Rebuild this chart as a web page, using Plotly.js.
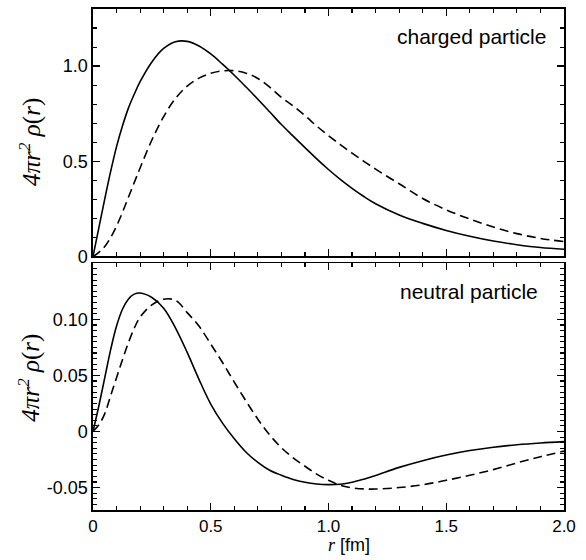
<!DOCTYPE html>
<html>
<head>
<meta charset="utf-8">
<script src="https://cdn.plot.ly/plotly-3.0.1.min.js"></script>
<style>html,body{margin:0;padding:0;background:#fff;}#chart{width:586px;height:560px;}</style>
</head>
<body>
<div id="chart"></div>
<script>
// radius grid [fm]
const rValues = [0,0.025,0.05,0.075,0.1,0.125,0.15,0.175,0.2,0.25,0.3,0.35,0.4,0.45,0.5,0.55,0.6,0.65,0.7,0.75,0.8,0.85,0.9,0.95,1.0,1.05,1.1,1.15,1.2,1.3,1.4,1.5,1.6,1.7,1.8,1.9,2.0];
// charged particle
const chargedSolid = [0,0.152,0.303,0.447,0.577,0.685,0.778,0.852,0.918,1.022,1.093,1.128,1.13,1.106,1.064,1.01,0.952,0.89,0.826,0.76,0.693,0.632,0.572,0.513,0.457,0.405,0.358,0.315,0.277,0.218,0.174,0.137,0.106,0.081,0.062,0.047,0.038];
const chargedDashed = [0,0.022,0.052,0.10,0.16,0.232,0.31,0.388,0.465,0.612,0.735,0.83,0.895,0.937,0.962,0.975,0.976,0.963,0.935,0.89,0.836,0.79,0.74,0.685,0.635,0.588,0.543,0.50,0.459,0.382,0.305,0.245,0.197,0.155,0.12,0.095,0.078];
// neutral particle
const neutralSolid = [0,0.023,0.048,0.073,0.094,0.109,0.118,0.1225,0.1235,0.1195,0.110,0.0925,0.0705,0.0465,0.0245,0.0075,-0.0065,-0.0185,-0.0275,-0.0345,-0.039,-0.0428,-0.0453,-0.0468,-0.0474,-0.047,-0.0453,-0.0425,-0.0392,-0.032,-0.026,-0.021,-0.017,-0.014,-0.0118,-0.0102,-0.009];
const neutralDashed = [0,0.006,0.016,0.032,0.048,0.064,0.079,0.092,0.102,0.113,0.118,0.117,0.106,0.094,0.078,0.0615,0.044,0.027,0.011,-0.003,-0.0145,-0.0235,-0.031,-0.038,-0.0435,-0.048,-0.0502,-0.0512,-0.0513,-0.0500,-0.0475,-0.0435,-0.039,-0.034,-0.028,-0.0225,-0.0175];
// ticks
const xTickVals = [0,0.5,1.0,1.5,2.0];
const xTickText = ["0","0.5","1.0","1.5","2.0"];
const topTickVals = [0,0.5,1.0];
const topTickText = ["0","0.5","1.0"];
const botTickVals = [-0.05,0,0.05,0.10];
const botTickText = ["-0.05","0","0.05","0.10"];
const panelLabels = ["charged particle","neutral particle"];

const lineW = 1.6;
const traces = [
  {x: rValues, y: chargedSolid, xaxis:'x2', yaxis:'y2', mode:'lines', line:{color:'#000', width:lineW, shape:'spline', smoothing:1}},
  {x: rValues, y: chargedDashed, xaxis:'x2', yaxis:'y2', mode:'lines', line:{color:'#000', width:lineW, dash:'9px,5px', shape:'spline', smoothing:1}},
  {x: rValues, y: neutralSolid, xaxis:'x', yaxis:'y', mode:'lines', line:{color:'#000', width:lineW, shape:'spline', smoothing:1}},
  {x: rValues, y: neutralDashed, xaxis:'x', yaxis:'y', mode:'lines', line:{color:'#000', width:lineW, dash:'9px,5px', shape:'spline', smoothing:1}}
];

const sans = 'Liberation Sans, Arial, sans-serif';
const serif = 'Liberation Serif, Times New Roman, serif';
const axisCommon = {
  showline:true, linecolor:'#000', linewidth:1.6, mirror:'allticks',
  ticks:'inside', ticklen:7, tickwidth:1.3, tickcolor:'#000',
  showgrid:false, zeroline:false, fixedrange:true
};
const minorTicks = (d) => ({dtick:d, ticks:'inside', ticklen:4, tickwidth:1.1, tickcolor:'#000', showgrid:false});

const yTitle = '<i>4πr</i><sup><i>2</i></sup>\u00a0<i>ρ</i>(<i>r</i>)';

const layout = {
  width:586, height:560,
  margin:{l:93, r:22, t:9, b:50},
  paper_bgcolor:'#fff', plot_bgcolor:'#fff',
  showlegend:false,
  xaxis: Object.assign({}, axisCommon, {range:[0,2], anchor:'y', tickvals:xTickVals, ticktext:xTickText,
    tickfont:{family:sans, size:17, color:'#000'}, minor:minorTicks(0.1)}),
  xaxis2: Object.assign({}, axisCommon, {range:[0,2], anchor:'y2', tickvals:xTickVals, ticktext:xTickText, showticklabels:false,
    minor:minorTicks(0.1)}),
  yaxis: Object.assign({}, axisCommon, {range:[-0.07,0.15], domain:[0,0.4924], anchor:'x', tickvals:botTickVals, ticktext:botTickText,
    tickfont:{family:sans, size:18, color:'#000'}, minor:minorTicks(0.005)}),
  yaxis2: Object.assign({}, axisCommon, {range:[0,1.3], domain:[0.506,1], anchor:'x2', tickvals:topTickVals, ticktext:topTickText,
    tickfont:{family:sans, size:18, color:'#000'}, minor:minorTicks(0.1)}),
  annotations:[
    {text:panelLabels[0], xref:'paper', yref:'paper', x:0.965, y:0.946, xanchor:'right', yanchor:'middle', showarrow:false,
     font:{family:sans, size:21, color:'#000'}},
    {text:panelLabels[1], xref:'paper', yref:'paper', x:0.948, y:0.436, xanchor:'right', yanchor:'middle', showarrow:false,
     font:{family:sans, size:21, color:'#000'}},
    {text:yTitle, xref:'paper', yref:'paper', x:-0.134, y:0.7345, xanchor:'center', yanchor:'middle', textangle:-90, showarrow:false,
     font:{family:serif, size:25, color:'#000'}},
    {text:yTitle, xref:'paper', yref:'paper', x:-0.134, y:0.2635, xanchor:'center', yanchor:'middle', textangle:-90, showarrow:false,
     font:{family:serif, size:25, color:'#000'}},
    {text:'<span style="font-family:Liberation Serif"><i>r</i></span> [fm]', xref:'paper', yref:'paper', x:0.543, y:0.0, yshift:-35, xanchor:'center', yanchor:'middle', showarrow:false,
     font:{family:sans, size:18, color:'#000'}}
  ]
};

Plotly.newPlot('chart', traces, layout, {displayModeBar:false, staticPlot:true});
</script>
</body>
</html>
